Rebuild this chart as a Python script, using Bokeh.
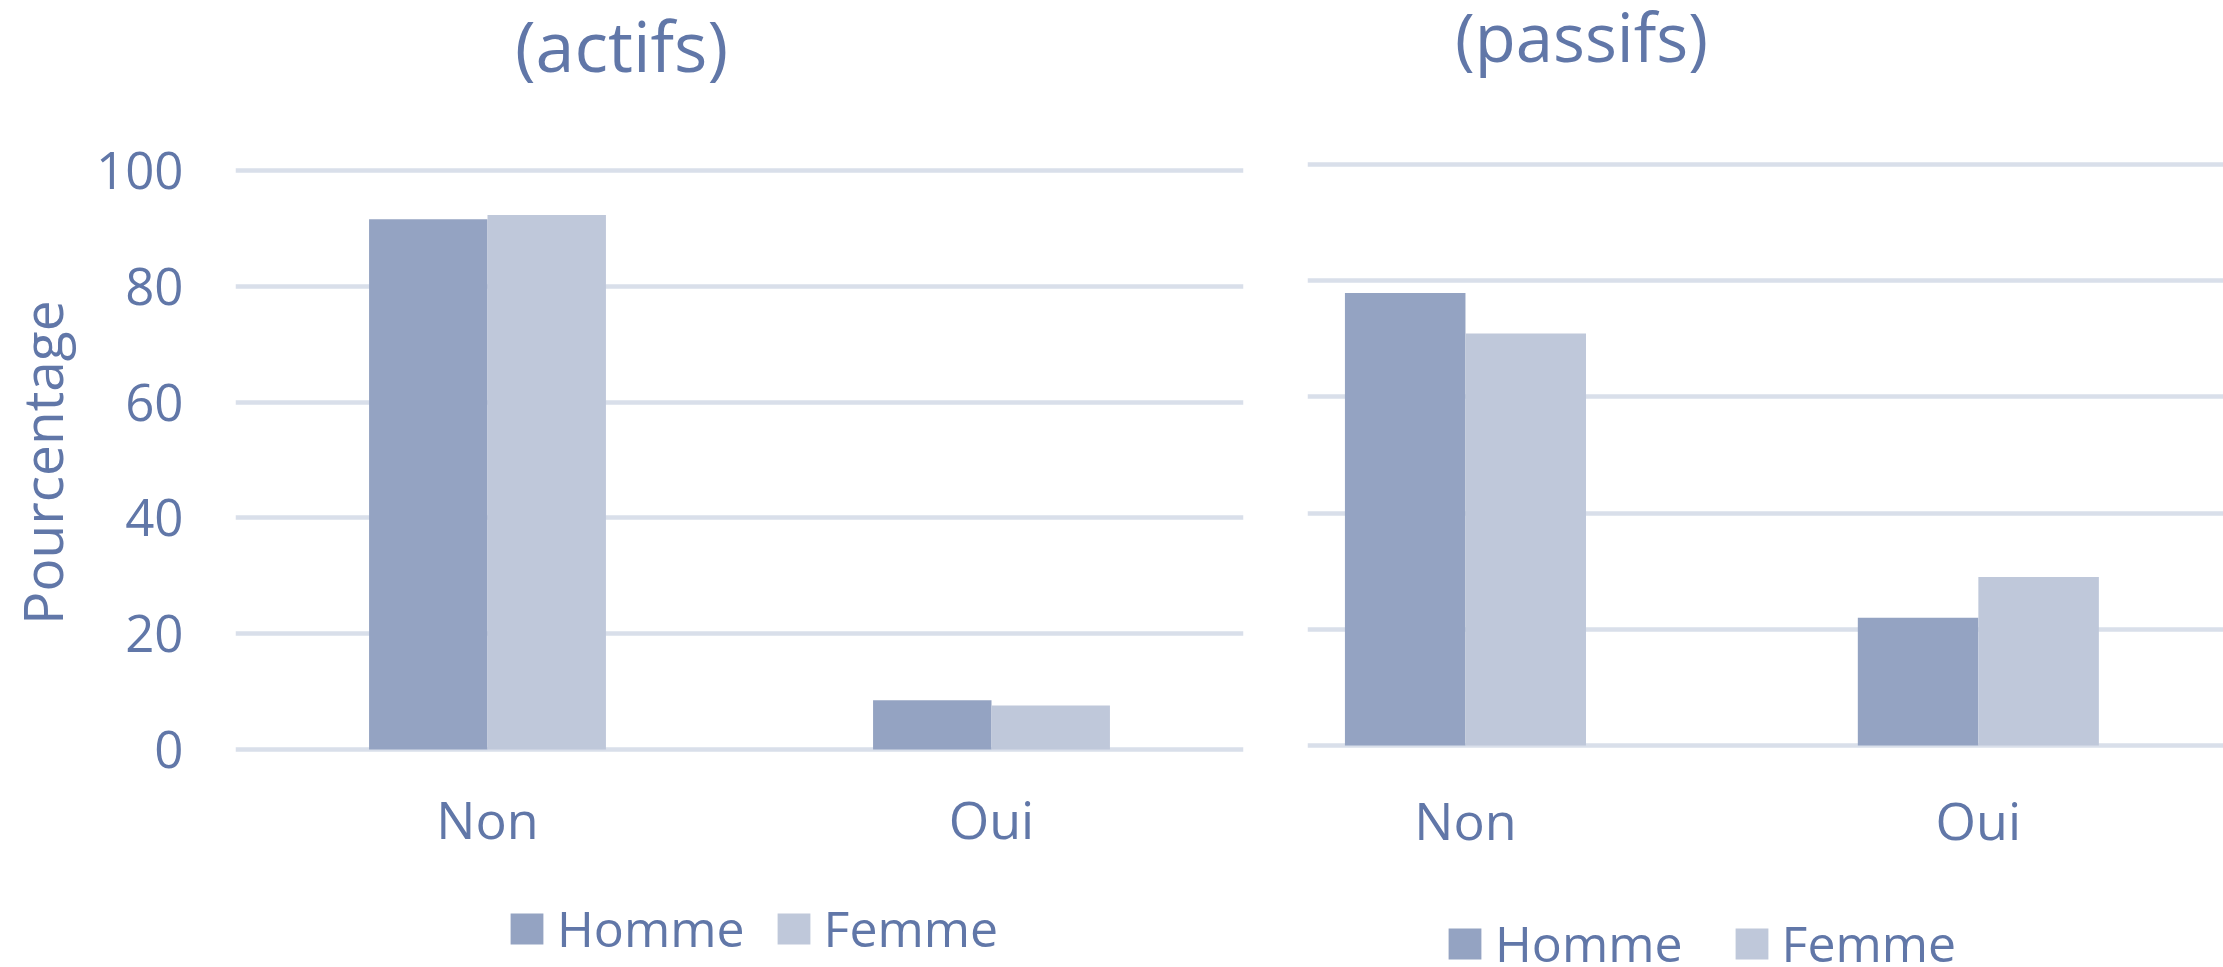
from bokeh.plotting import figure
from bokeh.models import Range1d, FixedTicker, ColumnDataSource, Legend, LegendItem, Label
from bokeh.layouts import row
from bokeh.transform import dodge
from bokeh.embed import file_html
from bokeh.resources import INLINE

# ---- data ----
categories = ["Non", "Oui"]
series_names = ["Homme", "Femme"]
actifs_homme = [91.6, 8.5]
actifs_femme = [92.3, 7.6]
passifs_homme = [77.9, 22.0]
passifs_femme = [70.9, 29.0]
y_ticks = [0, 20, 40, 60, 80, 100]
panel_titles = ["(actifs)", "(passifs)"]
y_title = "\u00a0\u00a0\u00a0Pourcentage"

# ---- style ----
FONT = "Open Sans"
TEXT = "#6177A8"
C_HOMME = "#94A3C2"
C_FEMME = "#BFC8DA"
GRID = "#D9DFEA"
BW = 0.235
H = 967


def make_panel(title, title_size, homme, femme, width, x_range, y_range, border_l,
               border_r, title_pos, show_y, x_standoff, legend_loc, legend_spacing):
    src = ColumnDataSource(dict(idx=list(range(len(categories))), cat=categories,
                                homme=homme, femme=femme))
    p = figure(width=width, height=H, x_range=x_range, y_range=y_range,
               title=None, output_backend="svg", toolbar_location=None,
               min_border_left=border_l, min_border_right=border_r,
               min_border_top=0, min_border_bottom=0)
    p.outline_line_color = None
    p.background_fill_color = "white"
    p.border_fill_color = "white"

    r1 = p.vbar(x=dodge("idx", -BW / 2), top="homme", width=BW, source=src,
                fill_color=C_HOMME, line_color=None)
    r2 = p.vbar(x=dodge("idx", BW / 2), top="femme", width=BW, source=src,
                fill_color=C_FEMME, line_color=None)

    p.xgrid.grid_line_color = None
    p.ygrid.ticker = FixedTicker(ticks=y_ticks)
    p.ygrid.grid_line_color = GRID
    p.ygrid.grid_line_width = 4.5
    p.ygrid.level = "underlay"

    xa = p.xaxis[0]
    xa.fixed_location = 0
    xa.ticker = FixedTicker(ticks=list(range(len(categories))))
    xa.major_label_overrides = {i: c for i, c in enumerate(categories)}
    xa.axis_line_color = None
    xa.major_tick_line_color = None
    xa.minor_tick_line_color = None
    xa.major_tick_out = 0
    xa.major_tick_in = 0
    xa.major_label_standoff = x_standoff
    xa.major_label_text_font = FONT
    xa.major_label_text_font_size = "52px"
    xa.major_label_text_color = TEXT

    ya = p.yaxis[0]
    ya.ticker = FixedTicker(ticks=y_ticks)
    ya.axis_line_color = None
    ya.major_tick_line_color = None
    ya.minor_tick_line_color = None
    ya.major_tick_out = 0
    ya.major_tick_in = 0
    ya.major_label_standoff = 52
    ya.major_label_text_font = FONT
    ya.major_label_text_font_size = "51px"
    ya.major_label_text_color = TEXT
    ya.axis_label = y_title if show_y else None
    ya.axis_label_text_font = FONT
    ya.axis_label_text_font_size = "55px"
    ya.axis_label_text_font_style = "normal"
    ya.axis_label_text_color = TEXT
    ya.axis_label_standoff = 14
    ya.visible = show_y

    p.add_layout(Label(x=title_pos[0], y=title_pos[1], x_units="screen", y_units="screen",
                       text=title, text_align="center", text_baseline="middle",
                       text_font=FONT, text_font_size=title_size, text_color=TEXT))

    legend = Legend(items=[LegendItem(label=series_names[0], renderers=[r1]),
                           LegendItem(label=series_names[1], renderers=[r2])],
                    orientation="horizontal", location=legend_loc,
                    border_line_color=None, background_fill_alpha=0,
                    padding=0, margin=0, spacing=legend_spacing,
                    glyph_width=41, glyph_height=39, label_standoff=10,
                    label_text_font=FONT, label_text_font_size="50px",
                    label_text_color=TEXT)
    p.add_layout(legend)
    return p


# left panel: gridline 0 at y 749, 100 at y 170 (page pixels)
p1 = make_panel(panel_titles[0], "70px", actifs_homme, actifs_femme, 1290,
                Range1d(-0.5, 1.5), Range1d(-37.65, 129.36), 235, 47,
                (386, 923), True, 33, (271, 5), 28)
# right panel: gridline 0 at y 745, 100 at y 164
p2 = make_panel(panel_titles[1], "67px", passifs_homme, passifs_femme, 933,
                Range1d(-0.308, 1.478), Range1d(-38.21, 128.23), 17, 0,
                (274, 932), False, 38, (137, -10), 48)

layout = row(p1, p2)
open("out.html", "w").write(file_html(layout, INLINE))
